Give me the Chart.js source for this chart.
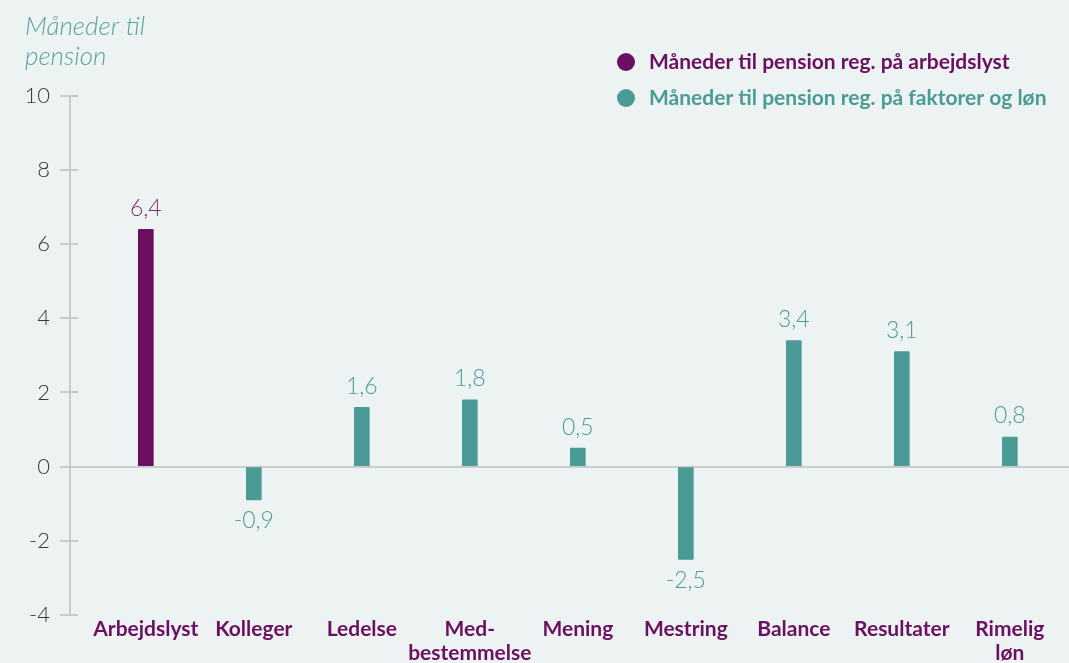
<!DOCTYPE html>
<html><head><meta charset="utf-8">
<script src="https://cdn.jsdelivr.net/npm/chart.js@4"></script>
<style>html,body{margin:0;padding:0;background:#edf2f2;}#wrap{width:1069px;height:663px;position:relative}</style>
</head><body><div id="wrap"><canvas id="c"></canvas></div>
<script>
const categories = ["Arbejdslyst","Kolleger","Ledelse",["Med-","bestemmelse"],"Mening","Mestring","Balance","Resultater",["Rimelig","løn"]];
const arbejdslystValues = [6.4,null,null,null,null,null,null,null,null];
const faktorValues = [null,-0.9,1.6,1.8,0.5,-2.5,3.4,3.1,0.8];
const yTicks = [10,8,6,4,2,0,-2,-4];
const seriesNames = ["Måneder til pension reg. på arbejdslyst","Måneder til pension reg. på faktorer og løn"];
const titleLines = ["Måneder til","pension"];

const PURPLE = '#6b1060', TEAL = '#4a9b95', GRID = '#c9cccc';
const toPoints = arr => arr.map((v,i)=> v===null?null:{x:i,y:v}).filter(p=>p);
const fmt = v => String(v).replace('.', ',');

const extras = {
  id:'extras',
  afterDatasetsDraw(chart){
    const ctx = chart.ctx;
    ctx.save();
    ctx.font = '300 23px Lato';
    ctx.textAlign = 'center';
    ctx.textBaseline = 'middle';
    chart.data.datasets.forEach((ds,di)=>{
      const meta = chart.getDatasetMeta(di);
      meta.data.forEach((bar,i)=>{
        const v = ds.data[i].y;
        ctx.fillStyle = ds.labelColor;
        const y = v>=0 ? bar.y - 21 : bar.y + 21;
        ctx.fillText(fmt(v), bar.x, y);
      });
    });
    const ys = chart.scales.y, left = chart.chartArea.left;
    ctx.strokeStyle = GRID; ctx.lineWidth = 2;
    ys.ticks.forEach(t=>{
      const py = Math.round(ys.getPixelForValue(t.value));
      ctx.beginPath(); ctx.moveTo(left, py); ctx.lineTo(left+8, py); ctx.stroke();
    });
    ctx.textAlign = 'left';
    ctx.font = 'bold 21px Lato';
    chart.data.datasets.forEach((ds,di)=>{
      const cy = 62 + di*36;
      ctx.fillStyle = ds.backgroundColor;
      ctx.beginPath(); ctx.arc(626, cy, 9, 0, Math.PI*2); ctx.fill();
      ctx.fillText(ds.label, 649, cy);
    });
    ctx.restore();
  }
};

new Chart(document.getElementById('c'), {
  type:'bar',
  data:{
    datasets:[
      {label:seriesNames[0], data:toPoints(arbejdslystValues), backgroundColor:PURPLE, labelColor:'#7e2f72', barThickness:15, grouped:false, borderRadius:1},
      {label:seriesNames[1], data:toPoints(faktorValues), backgroundColor:TEAL, labelColor:'#4f9d97', barThickness:15, grouped:false, borderRadius:1}
    ]
  },
  options:{
    responsive:true, maintainAspectRatio:false, animation:false, devicePixelRatio:1,
    layout:{padding:{left:25,top:0,right:0,bottom:0}},
    plugins:{
      legend:{display:false}, tooltip:{enabled:false},
      title:{display:true, align:'start', text:titleLines, color:'#5ba49e',
        font:{family:'Lato', style:'italic', weight:'300', size:26, lineHeight:1.15},
        padding:{top:12,bottom:24}}
    },
    scales:{
      x:{type:'linear', min:-0.702, max:8.548, offset:false,
        afterBuildTicks(s){ s.ticks = categories.map((c,i)=>({value:i})); },
        afterFit(s){ s.height = 48; },
        grid:{display:false, drawTicks:false, offset:false}, border:{display:false},
        ticks:{padding:2, autoSkip:false, maxRotation:0, color:PURPLE,
          font:{family:'Lato', weight:'bold', size:21, lineHeight:1.15},
          callback:(v)=> categories[v]}
      },
      y:{min:-4, max:10,
        afterBuildTicks(s){ s.ticks = yTicks.map(v=>({value:v})); },
        afterFit(s){ s.width = 45; },
        grid:{color:(c)=> c.tick && c.tick.value===0 ? GRID : 'rgba(0,0,0,0)', tickColor:GRID, tickLength:10, lineWidth:2},
        border:{display:true, color:GRID, width:2},
        ticks:{padding:10, color:'#3a3a3a', font:{family:'Lato', weight:'300', size:22}}
      }
    }
  },
  plugins:[extras]
});
</script></body></html>
